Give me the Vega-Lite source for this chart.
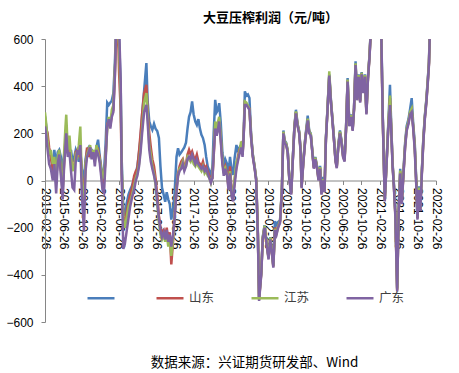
{
"$schema": "https://vega.github.io/schema/vega-lite/v6.json",
"width": 391, "height": 283,
"autosize": {"type": "none"},
"padding": {"left": 45, "top": 39, "right": 23, "bottom": 51},
"background": "white",
"title": {"text": "大豆压榨利润（元/吨）", "font": "Noto Sans CJK SC", "fontSize": 13, "fontWeight": "bold", "color": "#000000", "dx": 30, "offset": 8, "frame": "group", "anchor": "middle"},
"data": {"values": [
{"d":"2015-02-26","全国":272,"山东":240,"江苏":289,"广东":229},
{"d":"2015-03-06","全国":230,"山东":220,"江苏":240,"广东":190},
{"d":"2015-03-15","全国":180,"山东":200,"江苏":170,"广东":130},
{"d":"2015-03-25","全国":120,"山东":140,"江苏":110,"广东":70},
{"d":"2015-04-05","全国":110,"山东":100,"江苏":130,"广东":50},
{"d":"2015-04-18","全国":60,"山东":40,"江苏":70,"广东":0},
{"d":"2015-04-28","全国":130,"山东":90,"江苏":100,"广东":70},
{"d":"2015-05-10","全国":60,"山东":10,"江苏":0,"广东":-55},
{"d":"2015-05-20","全国":120,"山东":80,"江苏":100,"广东":70},
{"d":"2015-05-30","全国":130,"山东":110,"江苏":130,"广东":110},
{"d":"2015-06-10","全国":100,"山东":50,"江苏":40,"广东":20},
{"d":"2015-06-22","全国":40,"山东":-30,"江苏":-50,"广东":-80},
{"d":"2015-07-01","全国":110,"山东":70,"江苏":120,"广东":60},
{"d":"2015-07-10","全国":140,"山东":180,"江苏":230,"广东":150},
{"d":"2015-07-15","全国":150,"山东":200,"江苏":279,"广东":200},
{"d":"2015-07-25","全国":120,"山东":150,"江苏":130,"广东":100},
{"d":"2015-08-05","全国":110,"山东":130,"江苏":190,"广东":120},
{"d":"2015-08-15","全国":130,"山东":90,"江苏":100,"广东":40},
{"d":"2015-08-25","全国":80,"山东":50,"江苏":40,"广东":-30},
{"d":"2015-09-05","全国":100,"山东":60,"江苏":60,"广东":-40},
{"d":"2015-09-15","全国":130,"山东":120,"江苏":110,"广东":80},
{"d":"2015-09-25","全国":110,"山东":130,"江苏":100,"广东":130},
{"d":"2015-10-05","全国":80,"山东":100,"江苏":150,"广东":110},
{"d":"2015-10-15","全国":120,"山东":140,"江苏":229,"广东":150},
{"d":"2015-10-25","全国":50,"山东":20,"江苏":0,"广东":-60},
{"d":"2015-11-08","全国":0,"山东":-80,"江苏":-120,"广东":-215},
{"d":"2015-11-18","全国":90,"山东":60,"江苏":70,"广东":40},
{"d":"2015-11-28","全国":130,"山东":140,"江苏":110,"广东":100},
{"d":"2015-12-08","全国":140,"山东":100,"江苏":130,"广东":120},
{"d":"2015-12-18","全国":110,"山东":130,"江苏":150,"广东":140},
{"d":"2015-12-28","全国":130,"山东":120,"江苏":100,"广东":90},
{"d":"2016-01-08","全国":120,"山东":110,"江苏":130,"广东":120},
{"d":"2016-01-18","全国":100,"山东":90,"江苏":80,"广东":60},
{"d":"2016-01-28","全国":140,"山东":120,"江苏":150,"广东":130},
{"d":"2016-02-08","全国":173,"山东":130,"江苏":120,"广东":110},
{"d":"2016-02-18","全国":110,"山东":100,"江苏":90,"广东":80},
{"d":"2016-02-28","全国":60,"山东":40,"江苏":50,"广东":20},
{"d":"2016-03-08","全国":20,"山东":-20,"江苏":10,"广东":-40},
{"d":"2016-03-18","全国":40,"山东":0,"江苏":20,"广东":-53},
{"d":"2016-03-28","全国":150,"山东":100,"江苏":90,"广东":80},
{"d":"2016-04-08","全国":330,"山东":240,"江苏":220,"广东":230},
{"d":"2016-04-18","全国":320,"山东":250,"江苏":270,"广东":260},
{"d":"2016-04-28","全国":330,"山东":230,"江苏":240,"广东":220},
{"d":"2016-05-08","全国":340,"山东":280,"江苏":300,"广东":270},
{"d":"2016-05-18","全国":370,"山东":300,"江苏":320,"广东":290},
{"d":"2016-05-28","全国":500,"山东":450,"江苏":470,"广东":440},
{"d":"2016-06-05","全国":650,"山东":600,"江苏":620,"广东":640},
{"d":"2016-06-15","全国":720,"山东":700,"江苏":710,"广东":720},
{"d":"2016-06-25","全国":600,"山东":450,"江苏":560,"广东":640},
{"d":"2016-07-05","全国":400,"山东":300,"江苏":350,"广东":420},
{"d":"2016-07-12","全国":80,"山东":30,"江苏":50,"广东":0},
{"d":"2016-07-22","全国":-120,"山东":-150,"江苏":-170,"广东":-290},
{"d":"2016-08-01","全国":-150,"山东":-190,"江苏":-200,"广东":-270},
{"d":"2016-08-12","全国":-100,"山东":-140,"江苏":-160,"广东":-220},
{"d":"2016-08-25","全国":-60,"山东":-90,"江苏":-110,"广东":-160},
{"d":"2016-09-05","全国":-40,"山东":-60,"江苏":-90,"广东":-110},
{"d":"2016-09-18","全国":-20,"山东":-30,"江苏":-60,"广东":-70},
{"d":"2016-10-01","全国":10,"山东":20,"江苏":-20,"广东":-40},
{"d":"2016-10-12","全国":30,"山东":40,"江苏":10,"广东":0},
{"d":"2016-10-22","全国":60,"山东":50,"江苏":30,"广东":20},
{"d":"2016-11-02","全国":120,"山东":123,"江苏":70,"广东":60},
{"d":"2016-11-12","全国":180,"山东":200,"江苏":140,"广东":120},
{"d":"2016-11-22","全国":280,"山东":280,"江苏":220,"广东":200},
{"d":"2016-12-05","全国":380,"山东":370,"江苏":330,"广东":290},
{"d":"2016-12-20","全国":498,"山东":406,"江苏":371,"广东":321},
{"d":"2016-12-28","全国":340,"山东":300,"江苏":280,"广东":250},
{"d":"2017-01-08","全国":250,"山东":200,"江苏":150,"广东":130},
{"d":"2017-01-18","全国":230,"山东":140,"江苏":110,"广东":80},
{"d":"2017-01-28","全国":215,"山东":90,"江苏":60,"广东":50},
{"d":"2017-02-08","全国":240,"山东":60,"江苏":30,"广东":20},
{"d":"2017-02-18","全国":220,"山东":10,"江苏":-20,"广东":-10},
{"d":"2017-03-01","全国":210,"山东":-60,"江苏":-100,"广东":-90},
{"d":"2017-03-12","全国":180,"山东":-150,"江苏":-180,"广东":-160},
{"d":"2017-03-22","全国":60,"山东":-200,"江苏":-230,"广东":-210},
{"d":"2017-04-01","全国":-30,"山东":-220,"江苏":-250,"广东":-240},
{"d":"2017-04-12","全国":-60,"山东":-210,"江苏":-230,"广东":-220},
{"d":"2017-04-22","全国":-90,"山东":-240,"江苏":-260,"广东":-250},
{"d":"2017-05-02","全国":-50,"山东":-200,"江苏":-220,"广东":-210},
{"d":"2017-05-12","全国":-80,"山东":-250,"江苏":-280,"广东":-260},
{"d":"2017-05-22","全国":-100,"山东":-220,"江苏":-240,"广东":-230},
{"d":"2017-06-01","全国":-166,"山东":-356,"江苏":-320,"广东":-280},
{"d":"2017-06-12","全国":-120,"山东":-260,"江苏":-250,"广东":-230},
{"d":"2017-06-22","全国":-60,"山东":-150,"江苏":-160,"广东":-170},
{"d":"2017-07-05","全国":100,"山东":-30,"江苏":-40,"广东":-50},
{"d":"2017-07-15","全国":137,"山东":30,"江苏":20,"广东":20},
{"d":"2017-07-25","全国":110,"山东":60,"江苏":50,"广东":40},
{"d":"2017-08-05","全国":120,"山东":80,"江苏":60,"广东":50},
{"d":"2017-08-15","全国":130,"山东":90,"江苏":80,"广东":70},
{"d":"2017-08-25","全国":140,"山东":60,"江苏":50,"广东":40},
{"d":"2017-09-05","全国":160,"山东":70,"江苏":60,"广东":60},
{"d":"2017-09-15","全国":220,"山东":110,"江苏":100,"广东":90},
{"d":"2017-09-25","全国":270,"山东":130,"江苏":90,"广东":100},
{"d":"2017-10-05","全国":290,"山东":110,"江苏":80,"广东":90},
{"d":"2017-10-15","全国":335,"山东":123,"江苏":100,"广东":110},
{"d":"2017-10-25","全国":280,"山东":100,"江苏":70,"广东":90},
{"d":"2017-11-05","全国":250,"山东":90,"江苏":60,"广东":70},
{"d":"2017-11-15","全国":236,"山东":110,"江苏":80,"广东":90},
{"d":"2017-11-25","全国":260,"山东":80,"江苏":60,"广东":70},
{"d":"2017-12-05","全国":220,"山东":70,"江苏":50,"广东":60},
{"d":"2017-12-15","全国":194,"山东":60,"江苏":40,"广东":50},
{"d":"2017-12-25","全国":180,"山东":80,"江苏":60,"广东":60},
{"d":"2018-01-05","全国":151,"山东":50,"江苏":30,"广东":40},
{"d":"2018-01-15","全国":100,"山东":60,"江苏":40,"广东":50},
{"d":"2018-01-25","全国":60,"山东":40,"江苏":20,"广东":30},
{"d":"2018-02-05","全国":40,"山东":20,"江苏":10,"广东":10},
{"d":"2018-02-15","全国":24,"山东":0,"江苏":-10,"广东":-10},
{"d":"2018-02-25","全国":60,"山东":10,"江苏":20,"广东":10},
{"d":"2018-03-05","全国":200,"山东":100,"江苏":120,"广东":110},
{"d":"2018-03-15","全国":342,"山东":230,"江苏":250,"广东":220},
{"d":"2018-03-25","全国":290,"山东":200,"江苏":220,"广东":190},
{"d":"2018-04-03","全国":300,"山东":230,"江苏":250,"广东":220},
{"d":"2018-04-10","全国":328,"山东":250,"江苏":270,"广东":250},
{"d":"2018-04-20","全国":250,"山东":180,"江苏":190,"广东":170},
{"d":"2018-05-01","全国":120,"山东":80,"江苏":90,"广东":70},
{"d":"2018-05-10","全国":60,"山东":40,"江苏":30,"广东":20},
{"d":"2018-05-20","全国":90,"山东":60,"江苏":50,"广东":50},
{"d":"2018-06-01","全国":70,"山东":30,"江苏":20,"广东":20},
{"d":"2018-06-10","全国":30,"山东":-30,"江苏":-20,"广东":-40},
{"d":"2018-06-20","全国":100,"山东":60,"江苏":40,"广东":30},
{"d":"2018-07-01","全国":40,"山东":-50,"江苏":-60,"广东":-70},
{"d":"2018-07-10","全国":24,"山东":-60,"江苏":-70,"广东":-89},
{"d":"2018-07-20","全国":95,"山东":0,"江苏":10,"广东":-20},
{"d":"2018-08-01","全国":151,"山东":60,"江苏":80,"广东":50},
{"d":"2018-08-10","全国":120,"山东":100,"江苏":90,"广东":80},
{"d":"2018-08-20","全国":140,"山东":130,"江苏":120,"广东":110},
{"d":"2018-09-01","全国":150,"山东":150,"江苏":166,"广东":140},
{"d":"2018-09-10","全国":115,"山东":108,"江苏":112,"广东":100},
{"d":"2018-09-18","全国":215,"山东":205,"江苏":208,"广东":200},
{"d":"2018-09-25","全国":378,"山东":330,"江苏":335,"广东":320},
{"d":"2018-10-05","全国":360,"山东":325,"江苏":330,"广东":320},
{"d":"2018-10-15","全国":365,"山东":315,"江苏":318,"广东":310},
{"d":"2018-10-25","全国":350,"山东":305,"江苏":302,"广东":300},
{"d":"2018-11-05","全国":195,"山东":185,"江苏":188,"广东":180},
{"d":"2018-11-16","全国":112,"山东":105,"江苏":108,"广东":100},
{"d":"2018-11-28","全国":60,"山东":55,"江苏":58,"广东":50},
{"d":"2018-12-08","全国":8,"山东":4,"江苏":6,"广东":0},
{"d":"2018-12-19","全国":-220,"山东":-225,"江苏":-222,"广东":-230},
{"d":"2018-12-27","全国":-495,"山东":-505,"江苏":-500,"广东":-511},
{"d":"2019-01-10","全国":-390,"山东":-395,"江苏":-392,"广东":-400},
{"d":"2019-01-20","全国":-240,"山东":-245,"江苏":-242,"广东":-250},
{"d":"2019-02-01","全国":-190,"山东":-195,"江苏":-192,"广东":-200},
{"d":"2019-02-12","全国":-250,"山东":-255,"江苏":-252,"广东":-260},
{"d":"2019-02-27","全国":-325,"山东":-330,"江苏":-328,"广东":-335},
{"d":"2019-03-10","全国":-240,"山东":-245,"江苏":-242,"广东":-250},
{"d":"2019-03-20","全国":-290,"山东":-295,"江苏":-292,"广东":-300},
{"d":"2019-03-30","全国":-360,"山东":-365,"江苏":-362,"广东":-370},
{"d":"2019-04-10","全国":-173,"山东":-200,"江苏":-205,"广东":-210},
{"d":"2019-04-20","全国":-187,"山东":-220,"江苏":-225,"广东":-230},
{"d":"2019-05-01","全国":-175,"山东":-192,"江苏":-195,"广东":-200},
{"d":"2019-05-13","全国":-170,"山东":-175,"江苏":-172,"广东":-180},
{"d":"2019-05-25","全国":-40,"山东":-45,"江苏":-42,"广东":-50},
{"d":"2019-06-04","全国":212,"山东":204,"江苏":207,"广东":200},
{"d":"2019-06-12","全国":170,"山东":164,"江苏":167,"广东":160},
{"d":"2019-06-22","全国":160,"山东":154,"江苏":157,"广东":150},
{"d":"2019-07-02","全国":130,"山东":124,"江苏":127,"广东":120},
{"d":"2019-07-12","全国":20,"山东":14,"江苏":17,"广东":10},
{"d":"2019-07-25","全国":-50,"山东":-56,"江苏":-53,"广东":-60},
{"d":"2019-08-05","全国":100,"山东":94,"江苏":97,"广东":90},
{"d":"2019-08-15","全国":230,"山东":224,"江苏":227,"广东":220},
{"d":"2019-08-25","全国":300,"山东":290,"江苏":293,"广东":285},
{"d":"2019-09-05","全国":240,"山东":234,"江苏":237,"广东":230},
{"d":"2019-09-15","全国":210,"山东":204,"江苏":207,"广东":200},
{"d":"2019-09-25","全国":130,"山东":124,"江苏":127,"广东":120},
{"d":"2019-10-01","全国":-20,"山东":-28,"江苏":-25,"广东":-33},
{"d":"2019-10-12","全国":80,"山东":74,"江苏":77,"广东":70},
{"d":"2019-10-25","全国":180,"山东":174,"江苏":177,"广东":170},
{"d":"2019-11-10","全国":275,"山东":258,"江苏":262,"广东":255},
{"d":"2019-11-20","全国":210,"山东":204,"江苏":207,"广东":200},
{"d":"2019-11-30","全国":200,"山东":194,"江苏":197,"广东":190},
{"d":"2019-12-10","全国":130,"山东":124,"江苏":127,"广东":120},
{"d":"2019-12-20","全国":60,"山东":54,"江苏":57,"广东":50},
{"d":"2019-12-30","全国":100,"山东":94,"江苏":97,"广东":90},
{"d":"2020-01-10","全国":60,"山东":54,"江苏":57,"广东":50},
{"d":"2020-01-20","全国":12,"山东":4,"江苏":6,"广东":0},
{"d":"2020-01-30","全国":62,"山东":54,"江苏":57,"广东":50},
{"d":"2020-02-08","全国":-45,"山东":-55,"江苏":-52,"广东":-60},
{"d":"2020-02-18","全国":15,"山东":4,"江苏":6,"广东":0},
{"d":"2020-02-28","全国":-38,"山东":-45,"江苏":-42,"广东":-50},
{"d":"2020-03-08","全国":180,"山东":174,"江苏":177,"广东":170},
{"d":"2020-03-18","全国":300,"山东":294,"江苏":297,"广东":290},
{"d":"2020-03-30","全国":450,"山东":442,"江苏":463,"广东":445},
{"d":"2020-04-10","全国":340,"山东":334,"江苏":337,"广东":330},
{"d":"2020-04-20","全国":260,"山东":254,"江苏":257,"广东":250},
{"d":"2020-05-01","全国":170,"山东":164,"江苏":167,"广东":160},
{"d":"2020-05-10","全国":90,"山东":84,"江苏":87,"广东":80},
{"d":"2020-05-18","全国":62,"山东":56,"江苏":59,"广东":52},
{"d":"2020-05-28","全国":150,"山东":144,"江苏":147,"广东":140},
{"d":"2020-06-08","全国":212,"山东":204,"江苏":207,"广东":200},
{"d":"2020-06-18","全国":170,"山东":164,"江苏":167,"广东":160},
{"d":"2020-06-28","全国":112,"山东":104,"江苏":107,"广东":100},
{"d":"2020-07-08","全国":90,"山东":84,"江苏":87,"广东":80},
{"d":"2020-07-18","全国":230,"山东":224,"江苏":227,"广东":220},
{"d":"2020-07-28","全国":434,"山东":424,"江苏":428,"广东":420},
{"d":"2020-08-08","全国":240,"山东":234,"江苏":237,"广东":230},
{"d":"2020-08-20","全国":280,"山东":274,"江苏":277,"广东":270},
{"d":"2020-08-30","全国":220,"山东":214,"江苏":217,"广东":210},
{"d":"2020-09-08","全国":310,"山东":304,"江苏":307,"广东":300},
{"d":"2020-09-18","全国":505,"山东":494,"江苏":497,"广东":490},
{"d":"2020-09-28","全国":350,"山东":344,"江苏":347,"广东":340},
{"d":"2020-10-08","全国":450,"山东":444,"江苏":447,"广东":440},
{"d":"2020-10-18","全国":340,"山东":334,"江苏":337,"广东":330},
{"d":"2020-10-28","全国":460,"山东":454,"江苏":457,"广东":450},
{"d":"2020-11-08","全国":380,"山东":374,"江苏":377,"广东":370},
{"d":"2020-11-18","全国":450,"山东":444,"江苏":447,"广东":440},
{"d":"2020-11-28","全国":290,"山东":284,"江苏":287,"广东":280},
{"d":"2020-12-08","全国":440,"山东":434,"江苏":437,"广东":430},
{"d":"2020-12-18","全国":530,"山东":524,"江苏":527,"广东":520},
{"d":"2020-12-25","全国":620,"山东":614,"江苏":617,"广东":610},
{"d":"2021-01-05","全国":750,"山东":744,"江苏":747,"广东":740},
{"d":"2021-01-20","全国":830,"山东":824,"江苏":827,"广东":820},
{"d":"2021-02-05","全国":780,"山东":774,"江苏":777,"广东":770},
{"d":"2021-02-20","全国":740,"山东":734,"江苏":737,"广东":730},
{"d":"2021-03-05","全国":640,"山东":600,"江苏":625,"广东":630},
{"d":"2021-03-15","全国":270,"山东":255,"江苏":262,"广东":260},
{"d":"2021-03-28","全国":-75,"山东":-82,"江苏":-80,"广东":-89},
{"d":"2021-04-08","全国":70,"山东":64,"江苏":67,"广东":60},
{"d":"2021-04-20","全国":240,"山东":228,"江苏":232,"广东":220},
{"d":"2021-05-01","全国":406,"山东":350,"江苏":360,"广东":320},
{"d":"2021-05-10","全国":220,"山东":210,"江苏":213,"广东":200},
{"d":"2021-05-18","全国":75,"山东":66,"江苏":68,"广东":60},
{"d":"2021-05-26","全国":-5,"山东":-14,"江苏":-12,"广东":-20},
{"d":"2021-06-05","全国":-130,"山东":-142,"江苏":-138,"广东":-150},
{"d":"2021-06-17","全国":-455,"山东":-465,"江苏":-460,"广东":-471},
{"d":"2021-06-27","全国":-120,"山东":-130,"江苏":-128,"广东":-138},
{"d":"2021-07-07","全国":50,"山东":38,"江苏":42,"广东":30},
{"d":"2021-07-17","全国":-85,"山东":-94,"江苏":-90,"广东":-100},
{"d":"2021-07-28","全国":40,"山东":26,"江苏":30,"广东":20},
{"d":"2021-08-08","全国":160,"山东":146,"江苏":150,"广东":140},
{"d":"2021-08-18","全国":230,"山东":216,"江苏":220,"广东":210},
{"d":"2021-08-30","全国":260,"山东":246,"江苏":250,"广东":240},
{"d":"2021-09-10","全国":305,"山东":288,"江苏":292,"广东":280},
{"d":"2021-09-20","全国":349,"山东":300,"江苏":305,"广东":290},
{"d":"2021-09-30","全国":240,"山东":226,"江苏":230,"广东":220},
{"d":"2021-10-10","全国":160,"山东":140,"江苏":145,"广东":130},
{"d":"2021-10-20","全国":0,"山东":-12,"江苏":-8,"广东":-20},
{"d":"2021-10-28","全国":-150,"山东":-160,"江苏":-156,"广东":-166},
{"d":"2021-11-05","全国":-25,"山东":-34,"江苏":-30,"广东":-40},
{"d":"2021-11-15","全国":-115,"山东":-124,"江苏":-120,"广东":-130},
{"d":"2021-11-25","全国":35,"山东":26,"江苏":30,"广东":20},
{"d":"2021-12-05","全国":175,"山东":166,"江苏":170,"广东":160},
{"d":"2021-12-15","全国":275,"山东":266,"江苏":270,"广东":260},
{"d":"2021-12-25","全国":345,"山东":336,"江苏":340,"广东":330},
{"d":"2022-01-04","全国":435,"山东":426,"江苏":430,"广东":420},
{"d":"2022-01-11","全国":505,"山东":496,"江苏":500,"广东":490},
{"d":"2022-01-18","全国":670,"山东":662,"江苏":666,"广东":660}
]},
"transform": [{"fold": ["全国", "山东", "江苏", "广东"], "as": ["s", "v"]}],
"mark": {"type": "line", "strokeWidth": 2.5, "clip": true},
"encoding": {
  "x": {"field": "d", "type": "temporal",
    "scale": {"type": "utc", "domain": [{"year": 2015, "month": 2, "date": 26, "utc": true}, {"year": 2022, "month": 2, "date": 26, "utc": true}]},
    "axis": {"orient": "bottom", "offset": -141.5,
      "values": [
        {"year": 2015, "month": 2, "date": 26, "utc": true}, {"year": 2015, "month": 6, "date": 26, "utc": true}, {"year": 2015, "month": 10, "date": 26, "utc": true},
        {"year": 2016, "month": 2, "date": 26, "utc": true}, {"year": 2016, "month": 6, "date": 26, "utc": true}, {"year": 2016, "month": 10, "date": 26, "utc": true},
        {"year": 2017, "month": 2, "date": 26, "utc": true}, {"year": 2017, "month": 6, "date": 26, "utc": true}, {"year": 2017, "month": 10, "date": 26, "utc": true},
        {"year": 2018, "month": 2, "date": 26, "utc": true}, {"year": 2018, "month": 6, "date": 26, "utc": true}, {"year": 2018, "month": 10, "date": 26, "utc": true},
        {"year": 2019, "month": 2, "date": 26, "utc": true}, {"year": 2019, "month": 6, "date": 26, "utc": true}, {"year": 2019, "month": 10, "date": 26, "utc": true},
        {"year": 2020, "month": 2, "date": 26, "utc": true}, {"year": 2020, "month": 6, "date": 26, "utc": true}, {"year": 2020, "month": 10, "date": 26, "utc": true},
        {"year": 2021, "month": 2, "date": 26, "utc": true}, {"year": 2021, "month": 6, "date": 26, "utc": true}, {"year": 2021, "month": 10, "date": 26, "utc": true},
        {"year": 2022, "month": 2, "date": 26, "utc": true}
      ],
      "labelExpr": "utcFormat(datum.value, '%Y-%m-%d')",
      "labelAngle": 90, "labelFont": "Liberation Sans", "labelFontSize": 12, "labelColor": "#000000",
      "labelPadding": 3, "tickSize": 4, "tickColor": "#868686", "domainColor": "#868686",
      "grid": false, "labelOverlap": false, "labelFlush": false, "labelBound": false,
      "title": "数据来源：兴证期货研发部、Wind", "titleFont": "Noto Sans CJK SC", "titleFontSize": 13.5,
      "titleFontWeight": "normal", "titleColor": "#000000", "titleX": 209, "titleY": 182,
      "titleAlign": "center", "titleBaseline": "middle"}},
  "y": {"field": "v", "type": "quantitative",
    "scale": {"domain": [-600, 600], "nice": false, "zero": false},
    "axis": {"values": [-600, -400, -200, 0, 200, 400, 600], "labelFont": "Liberation Sans", "labelFontSize": 12,
      "labelColor": "#000000", "tickSize": 4, "labelPadding": 8, "tickColor": "#868686", "domainColor": "#868686",
      "grid": false, "title": null}},
  "color": {"field": "s", "type": "nominal",
    "scale": {"domain": ["全国", "山东", "江苏", "广东"], "range": ["#4A7EBB", "#C0504D", "#9BBB59", "#8064A2"]},
    "legend": {"orient": "none", "legendX": 41, "legendY": 244, "direction": "horizontal", "title": null,
      "symbolType": "stroke", "symbolSize": 729, "symbolStrokeWidth": 2.5,
      "labelFont": "Noto Sans CJK SC", "labelFontSize": 12.5, "labelColor": "#404040",
      "labelOffset": 4, "columnPadding": 31, "padding": 0,
      "labelExpr": "datum.label == '全国' ? '' : datum.label"}}
},
"config": {"view": {"stroke": null}}
}
